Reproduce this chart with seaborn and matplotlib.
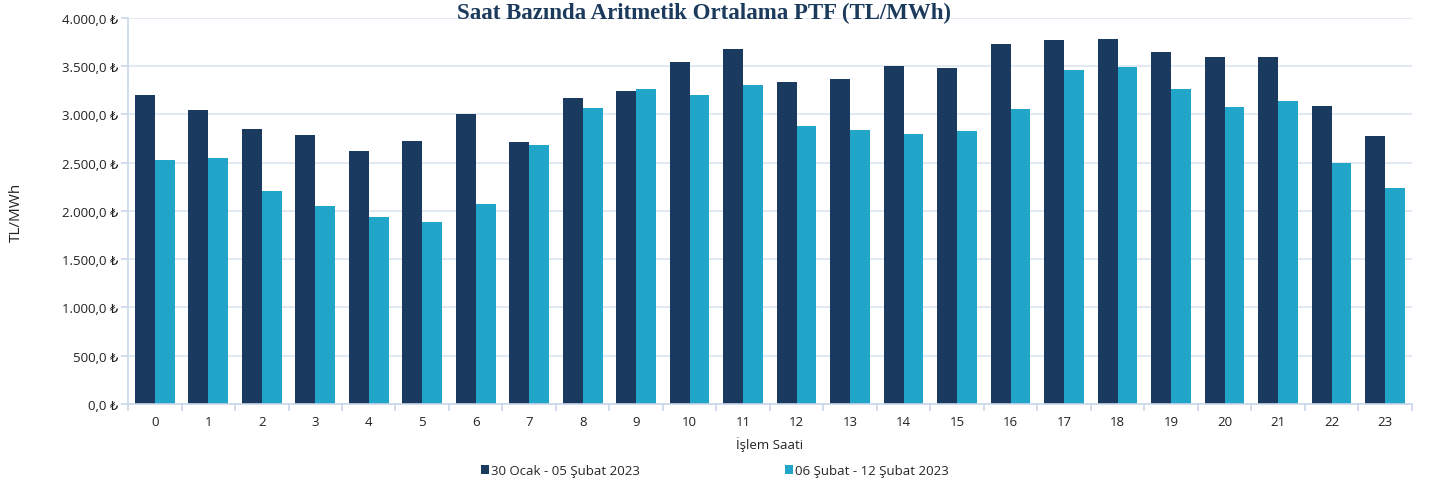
import pandas as pd
import matplotlib
matplotlib.use('Agg')
import matplotlib.pyplot as plt
import matplotlib.ticker as mticker
import seaborn as sns

hours = list(range(24))
week1_label = "30 Ocak - 05 Şubat 2023"
week2_label = "06 Şubat - 12 Şubat 2023"
week1 = [3200, 3047, 2850, 2788, 2622, 2725, 3005, 2715, 3171, 3243, 3544, 3679,
         3337, 3368, 3502, 3482, 3731, 3772, 3782, 3648, 3596, 3596, 3088, 2777]
week2 = [2528, 2549, 2207, 2052, 1938, 1886, 2073, 2684, 3067, 3264, 3202, 3306,
         2881, 2839, 2798, 2829, 3057, 3461, 3492, 3264, 3078, 3140, 2497, 2238]
y_ticks = [0, 500, 1000, 1500, 2000, 2500, 3000, 3500, 4000]

dark = '#1b3a60'
light = '#21a5c8'
grid_col = '#dbe5f1'
axis_col = '#c9d7ea'


def tl_fmt(v, pos):
    s = f"{v:,.1f}".replace(',', 'X').replace('.', ',').replace('X', '.')
    return s + ' ₺'


def main():
    df = pd.DataFrame({
        'hour': hours * 2,
        'value': week1 + week2,
        'period': [week1_label] * 24 + [week2_label] * 24,
    })

    sns.set_theme(style='white')
    plt.rcParams['font.family'] = ['Open Sans', 'DejaVu Sans']

    fig = plt.figure(figsize=(14.29, 4.85), dpi=100)
    ax = fig.add_axes([0.0896, 0.165, 0.8984, 0.796])

    sns.barplot(data=df, x='hour', y='value', hue='period',
                palette=[dark, light], saturation=1, width=0.74, ax=ax,
                linewidth=0, legend=True)

    ax.set_ylim(0, 4000)
    ax.set_xlim(-0.5, 23.5)
    ax.set_yticks(y_ticks)
    ax.yaxis.set_major_formatter(mticker.FuncFormatter(tl_fmt))
    ax.yaxis.grid(True, color=grid_col, linewidth=1.2)
    ax.set_axisbelow(True)

    for side in ['top', 'right']:
        ax.spines[side].set_visible(False)
    for side in ['left', 'bottom']:
        ax.spines[side].set_color(axis_col)
        ax.spines[side].set_linewidth(1.2)

    # tick marks between categories on x, labels at centres
    ax.set_xticks([h - 0.5 for h in hours] + [23.5], minor=True)
    ax.tick_params(axis='x', which='major', length=0, labelsize=9.5,
                   colors='#222222', pad=8)
    ax.tick_params(axis='x', which='minor', length=5, width=1.2,
                   color=axis_col, direction='out', bottom=True)
    ax.tick_params(axis='y', which='major', length=5, width=1.2,
                   color=axis_col, labelsize=9.5, labelcolor='#222222',
                   left=True, pad=2)

    ax.set_xlabel('İşlem Saati', fontsize=9.5, color='#222222', labelpad=6)
    ax.set_ylabel('TL/MWh', fontsize=11, color='#222222', labelpad=27)

    handles, labels = ax.get_legend_handles_labels()
    ax.get_legend().remove()
    fig.legend(handles, labels, loc='lower center', ncol=2,
               bbox_to_anchor=(0.5, -0.01), frameon=False, fontsize=9.5,
               handlelength=0.6, handleheight=0.6, handletextpad=0.15,
               columnspacing=11)

    fig.text(0.493, 0.995, 'Saat Bazında Aritmetik Ortalama PTF (TL/MWh)',
             ha='center', va='top', fontsize=16.5, fontweight='bold',
             color='#1b3a5c', family=['Liberation Serif', 'DejaVu Serif'])

    fig.savefig('out.png', dpi=100)
    plt.close(fig)


if __name__ == '__main__':
    main()
